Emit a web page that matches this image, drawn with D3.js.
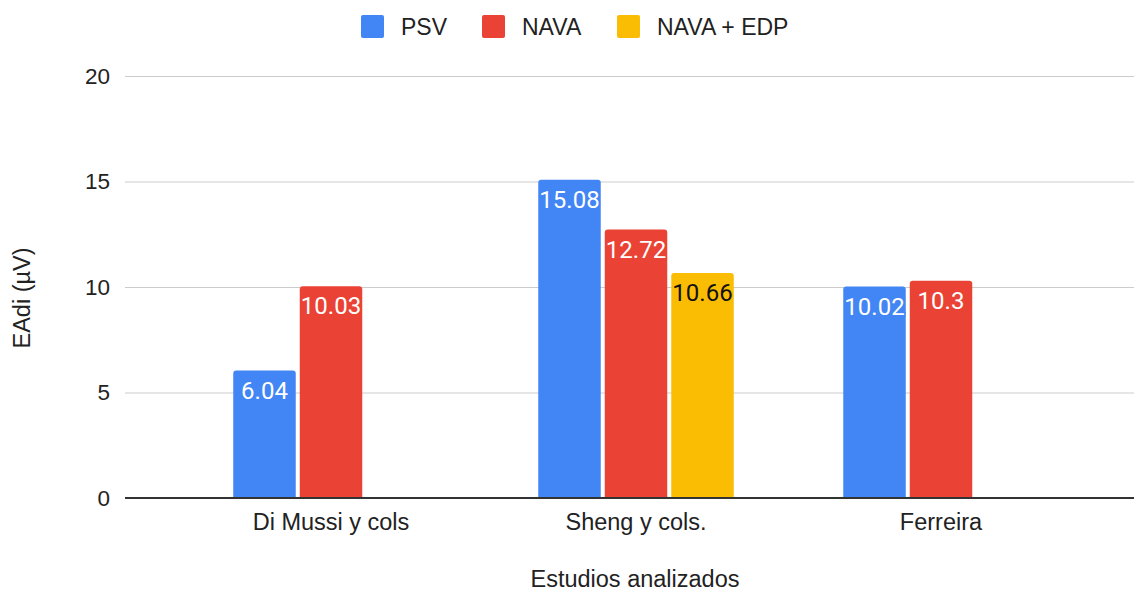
<!DOCTYPE html>
<html lang="es">
<head>
<meta charset="UTF-8">
<title>EAdi por estudio</title>
<script src="https://d3js.org/d3.v7.min.js"></script>
<style>
  body { margin: 0; background: #fff; }
  svg text { font-family: "Liberation Sans", Arial, sans-serif; }
  .val { font-family: Roboto, "Noto Sans", sans-serif; }
</style>
</head>
<body>
<svg id="chart" width="1134" height="592"></svg>
<script>
// data
const categories = ["Di Mussi y cols", "Sheng y cols.", "Ferreira"];
const seriesNames = ["PSV", "NAVA", "NAVA + EDP"];
const seriesColors = ["#4285f4", "#ea4335", "#fbbc04"];
const psv = [6.04, 15.08, 10.02];
const nava = [10.03, 12.72, 10.3];
const navaEdp = [null, 10.66, null];
const yTicks = [0, 5, 10, 15, 20];

const values = [psv, nava, navaEdp];

const svg = d3.select("#chart");

const y = d3.scaleLinear().domain([0, 20]).range([498, 76]);
const x0 = d3.scaleBand().domain(categories).range([178.5, 1093.5]);
const barW = 62.5, gap = 4;
const x1 = d3.scaleBand().domain(seriesNames)
  .range([-(3 * barW + 2 * gap) / 2, (3 * barW + 2 * gap) / 2])
  .paddingInner(gap / (barW + gap));

// gridlines + tick labels
const yAxis = d3.axisLeft(y).tickValues(yTicks).tickSize(-(1134 - 125)).tickPadding(15);
const gy = svg.append("g").attr("transform", "translate(125,0)").call(yAxis);
gy.select(".domain").remove();
gy.selectAll(".tick line").attr("stroke", "#cccccc").attr("stroke-width", 1);
gy.selectAll(".tick text").attr("font-size", 22.5).attr("fill", "#222")
  .attr("font-family", "Liberation Sans, Arial, sans-serif");

// bars
function topRounded(x, yTop, w, h, r) {
  r = Math.min(r, h);
  return `M${x},${yTop + h}V${yTop + r}Q${x},${yTop} ${x + r},${yTop}H${x + w - r}Q${x + w},${yTop} ${x + w},${yTop + r}V${yTop + h}Z`;
}

const rows = [];
categories.forEach((c, ci) => {
  seriesNames.forEach((s, si) => {
    const v = values[si][ci];
    if (v != null) rows.push({ c, s, si, v });
  });
});

const g = svg.append("g");
g.selectAll("path.bar").data(rows).join("path")
  .attr("class", "bar")
  .attr("fill", d => seriesColors[d.si])
  .attr("d", d => {
    const bx = x0(d.c) + x0.bandwidth() / 2 + x1(d.s);
    return topRounded(bx, y(d.v), x1.bandwidth(), y(0) - y(d.v), 3);
  });

// value labels with halo in bar colour
g.selectAll("text.val").data(rows).join("text")
  .attr("class", "val")
  .attr("x", d => x0(d.c) + x0.bandwidth() / 2 + x1(d.s) + x1.bandwidth() / 2)
  .attr("y", d => y(d.v) + 28)
  .attr("text-anchor", "middle")
  .attr("font-size", 24)
  .attr("fill", d => d.si === 2 ? "#111" : "#fff")
  .attr("stroke", d => seriesColors[d.si])
  .attr("stroke-width", 3)
  .attr("paint-order", "stroke")
  .text(d => d.v);

// baseline
svg.append("line")
  .attr("x1", 125).attr("x2", 1134)
  .attr("y1", y(0)).attr("y2", y(0))
  .attr("stroke", "#333").attr("stroke-width", 2);

// category labels
svg.append("g").selectAll("text").data(categories).join("text")
  .attr("x", d => x0(d) + x0.bandwidth() / 2)
  .attr("y", 530)
  .attr("text-anchor", "middle")
  .attr("font-size", 23.5)
  .attr("fill", "#222")
  .text(d => d);

// axis titles
svg.append("text")
  .attr("x", 635).attr("y", 587)
  .attr("text-anchor", "middle").attr("font-size", 23.5).attr("fill", "#222")
  .text("Estudios analizados");

svg.append("text")
  .attr("transform", "translate(30,298) rotate(-90)")
  .attr("text-anchor", "middle").attr("font-size", 23.5).attr("fill", "#222")
  .text("EAdi (µV)");

// legend
const legendX = [361, 482, 617];
const lg = svg.append("g").selectAll("g").data(seriesNames).join("g")
  .attr("transform", (d, i) => `translate(${legendX[i]},15)`);
lg.append("rect").attr("width", 23).attr("height", 23).attr("rx", 2)
  .attr("fill", (d, i) => seriesColors[i]);
lg.append("text").attr("x", 40).attr("y", 20)
  .attr("font-size", 23).attr("fill", "#222")
  .text(d => d);
</script>
</body>
</html>
